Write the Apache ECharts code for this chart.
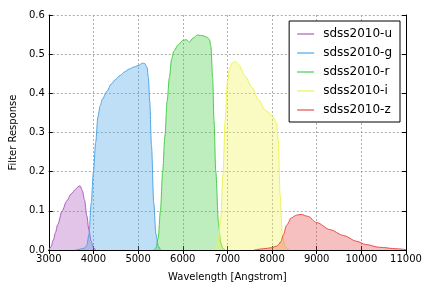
<!DOCTYPE html>
<html>
<head>
<meta charset="utf-8">
<script src="https://cdn.jsdelivr.net/npm/echarts@6/dist/echarts.min.js"></script>
<style>html,body{margin:0;padding:0;background:#fff}#c{width:432px;height:288px}</style>
</head>
<body>
<div id="c"></div>
<script>
var seriesNames = ['sdss2010-u','sdss2010-g','sdss2010-r','sdss2010-i','sdss2010-z'];
var xTicks = [3000,4000,5000,6000,7000,8000,9000,10000,11000];
var yTicks = [0.0,0.1,0.2,0.3,0.4,0.5,0.6];

var uWave = [3000,3050,3100,3150,3200,3300,3400,3500,3600,3650,3700,3750,3800,3850,3900,3950,4000,4050];
var uResp = [0.0,0.008,0.025,0.045,0.065,0.1,0.125,0.143,0.155,0.161,0.164,0.152,0.128,0.088,0.05,0.022,0.006,0.0];

var gWave = [3600,3700,3800,3850,3900,3950,4000,4050,4100,4150,4200,4300,4400,4500,4600,4700,4800,4900,5000,5100,5150,5200,5230,5260,5300,5350,5400,5450,5500];
var gResp = [0.0,0.002,0.005,0.012,0.04,0.12,0.2,0.275,0.34,0.368,0.385,0.405,0.424,0.436,0.446,0.455,0.462,0.467,0.471,0.477,0.476,0.466,0.44,0.38,0.265,0.12,0.04,0.01,0.0];

var rWave = [5350,5400,5450,5500,5550,5600,5650,5700,5750,5800,5900,6000,6080,6150,6230,6330,6450,6550,6600,6630,6670,6700,6740,6800,6850,6900,6950];
var rResp = [0.0,0.005,0.03,0.1,0.2,0.29,0.38,0.44,0.487,0.508,0.524,0.535,0.537,0.531,0.541,0.549,0.547,0.543,0.537,0.52,0.44,0.33,0.2,0.07,0.018,0.004,0.0];

var iWave = [6700,6750,6800,6850,6900,6950,7000,7050,7100,7180,7260,7400,7550,7700,7850,8000,8100,8140,8180,8230,8290,8350,8400];
var iResp = [0.0,0.004,0.025,0.08,0.19,0.33,0.43,0.463,0.477,0.481,0.472,0.443,0.415,0.383,0.357,0.343,0.325,0.28,0.14,0.04,0.01,0.003,0.0];

var zWave = [7600,7800,8000,8100,8150,8200,8250,8330,8430,8550,8650,8800,9000,9300,9600,9900,10100,10400,10800,11000];
var zResp = [0.0,0.003,0.006,0.01,0.014,0.022,0.038,0.064,0.082,0.089,0.091,0.086,0.07,0.052,0.037,0.022,0.014,0.007,0.003,0.001];

var lineColors = ['#b05cc0','#4ea6e6','#4ccc4c','#eef356','#e84f4f'];

function pairs(w, r){ return w.map(function(x,i){ return [x, r[i]]; }); }
var allData = [pairs(uWave,uResp), pairs(gWave,gResp), pairs(rWave,rResp), pairs(iWave,iResp), pairs(zWave,zResp)];

var font = 'DejaVu Sans';
var series = seriesNames.map(function(n, k){
  return {
    name: n, type: 'line', data: allData[k], xAxisIndex: 0, yAxisIndex: 0,
    showSymbol: false, symbol: 'none', smooth: 0.3, smoothMonotone: 'x',
    lineStyle: {color: lineColors[k], width: 1},
    itemStyle: {color: lineColors[k]},
    areaStyle: {color: lineColors[k], opacity: 0.36},
    z: 2 + k
  };
});

var chart = echarts.init(document.getElementById('c'), null, {renderer: 'canvas'});
chart.setOption({
  animation: false,
  backgroundColor: '#fff',
  grid: {left: 44, right: 26, top: 15, bottom: 38, containLabel: false},
  legend: {
    orient: 'vertical', right: 32, top: 21,
    data: seriesNames,
    icon: 'rect', itemWidth: 17, itemHeight: 1.2, itemGap: 7,
    padding: [7, 8, 6, 8],
    borderColor: '#000', borderWidth: 1, backgroundColor: '#fff',
    textStyle: {fontFamily: font, fontSize: 12, color: '#000', padding: [0,0,0,4]}
  },
  xAxis: [{
    type: 'value', min: 3000, max: 11000, interval: 1000,
    name: 'Wavelength [Angstrom]', nameLocation: 'middle', nameGap: 22,
    nameTextStyle: {fontFamily: font, fontSize: 10, color: '#000'},
    axisLine: {lineStyle: {color: '#000', width: 1}},
    axisTick: {inside: true, length: 4, lineStyle: {color: '#000'}},
    axisLabel: {fontFamily: font, fontSize: 10, color: '#000', margin: 4,
      formatter: function(v){ return String(v); }},
    splitLine: {show: true, lineStyle: {color: '#999', type: [2,2], width: 0.8}}
  },{
    type: 'value', min: 3000, max: 11000, interval: 1000, position: 'top',
    axisLine: {show: true, lineStyle: {color: '#000', width: 1}},
    axisTick: {inside: true, length: 4, lineStyle: {color: '#000'}},
    axisLabel: {show: false}, splitLine: {show: false}
  }],
  yAxis: [{
    type: 'value', min: 0, max: 0.6, interval: 0.1,
    name: 'Filter Response', nameLocation: 'middle', nameGap: 29,
    nameTextStyle: {fontFamily: font, fontSize: 10, color: '#000'},
    axisLine: {show: true, lineStyle: {color: '#000', width: 1}},
    axisTick: {show: true, inside: true, length: 4, lineStyle: {color: '#000'}},
    axisLabel: {fontFamily: font, fontSize: 10, color: '#000', margin: 4,
      formatter: function(v){ return v.toFixed(1); }},
    splitLine: {show: true, lineStyle: {color: '#999', type: [2,2], width: 0.8}}
  },{
    type: 'value', min: 0, max: 0.6, interval: 0.1, position: 'right',
    axisLine: {show: true, lineStyle: {color: '#000', width: 1}},
    axisTick: {show: true, inside: true, length: 4, lineStyle: {color: '#000'}},
    axisLabel: {show: false}, splitLine: {show: false}
  }],
  series: series
});
</script>
</body>
</html>
